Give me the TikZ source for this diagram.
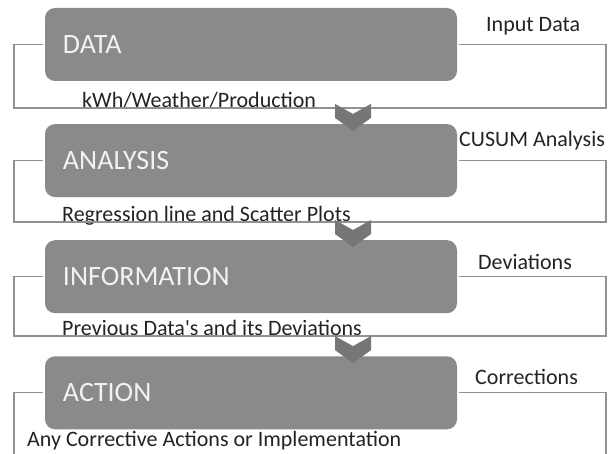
\documentclass[tikz,border=0pt]{standalone}
\usepackage{fontspec}
\setmainfont{Carlito}
\usetikzlibrary{positioning}
\definecolor{boxgray}{RGB}{138,138,138}
\definecolor{linegray}{RGB}{145,145,145}
\definecolor{chevgray}{RGB}{118,118,118}
\definecolor{inkgray}{RGB}{35,35,35}
\tikzset{
  stage/.style={fill=boxgray, rounded corners=10pt, minimum width=412pt, minimum height=73pt,
    text width=376pt, inner xsep=18pt, align=left, text=white!95!black,
    font=\fontsize{28}{32}\selectfont},
  note/.style={text=inkgray, inner sep=0pt, anchor=base west, font=\fontsize{22}{26}\selectfont},
  bracket/.style={draw=linegray, line width=1.3pt},
  chevron/.style={fill=chevgray}
}
\begin{document}
\begin{tikzpicture}[x=1pt, y=-1pt, node distance=42.7pt]
\useasboundingbox (0,0) rectangle (614,454);
\clip (0,0) rectangle (614,454);
\coordinate (L) at (14,0);
\coordinate (R) at (606,0);
\coordinate (foot) at (0,456);

\node[stage] (data) at (251,44.5) {DATA};
\node[stage, below=of data] (analysis) {ANALYSIS};
\node[stage, below=of analysis] (information) {INFORMATION};
\node[stage, below=of information] (action) {ACTION};

\node[note] (input) at (486,32) {Input Data};
\node[note] (cusum) at (459,147) {CUSUM Analysis};
\node[note] (deviations) at (478,270) {Deviations};
\node[note] (corrections) at (475,385) {Corrections};
\node[note] (kwh) at (82,108) {kWh/Weather/Production};
\node[note] (regression) at (62,222) {Regression line and Scatter Plots};
\node[note] (previous) at (62,336) {Previous Data\textquotesingle s and its Deviations};
\node[note] (corrective) at (27,447) {Any Corrective Actions or Implementation};

\draw[bracket] ([xshift=-2pt]data.west) -- (data.west -| L) |- (kwh.base -| R) -- (data.east -| R) -- ([xshift=2pt]data.east);
\draw[bracket] ([xshift=-2pt]analysis.west) -- (analysis.west -| L) |- (regression.base -| R) -- (analysis.east -| R) -- ([xshift=2pt]analysis.east);
\draw[bracket] ([xshift=-2pt]information.west) -- (information.west -| L) |- (previous.base -| R) -- (information.east -| R) -- ([xshift=2pt]information.east);
\draw[bracket] ([xshift=-2pt]action.west) -- (action.west -| L) |- (foot -| R) -- (action.east -| R) -- ([xshift=2pt]action.east);

% chevrons between the stages
\foreach \s in {analysis, information, action}
  \fill[chevron] ([xshift=102pt, yshift=20pt]\s.north) ++(-18,0) -- ++(18,10) -- ++(18,-10)
    -- ++(0,14) -- ++(-18,13) -- ++(-18,-13) -- cycle;
\end{tikzpicture}
\end{document}
